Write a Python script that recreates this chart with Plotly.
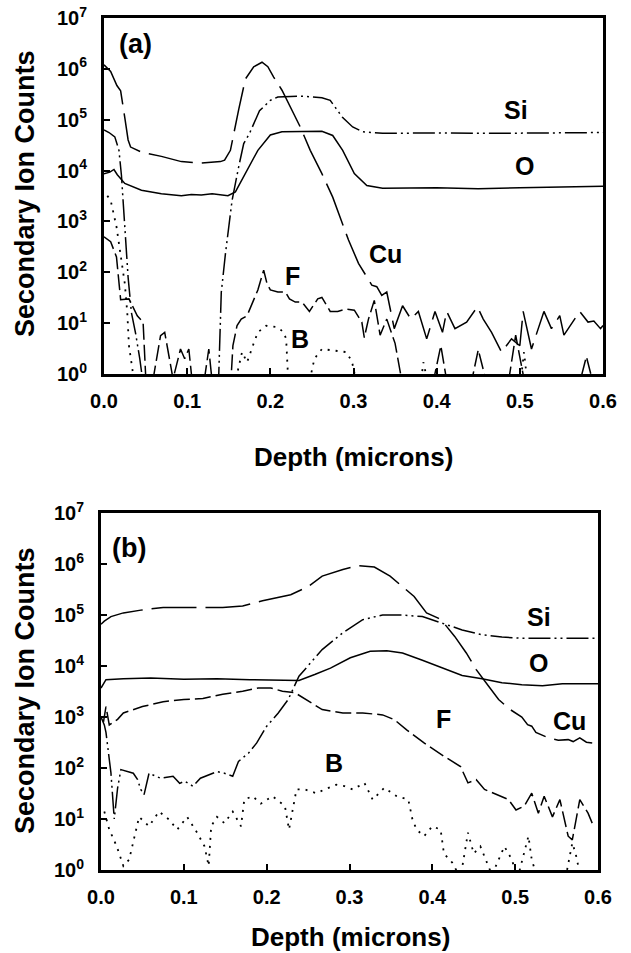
import plotly.graph_objects as go

# ---------------- Panel (a) data ----------------
a_si_x = [0.0, 0.006, 0.013, 0.018, 0.021, 0.025, 0.029, 0.033, 0.038, 0.043, 0.048, 0.09, 0.137,
          0.138, 0.141, 0.146, 0.154, 0.162, 0.168, 0.175, 0.187, 0.2, 0.209, 0.238, 0.262, 0.272,
          0.287, 0.299, 0.311, 0.335, 0.4, 0.47, 0.53, 0.6]
a_si_y = [6.3e4, 5.6e4, 4.6e4, 2.5e4, 7.9e3, 8.0e2, 79, 16, 6.3, 2.0, 0.5, 0.5, 0.5,
          1.0, 40, 2.3e2, 2.6e3, 1.2e4, 3.4e4, 5.4e4, 1.5e5, 2.4e5, 2.8e5, 2.9e5, 2.7e5, 2.4e5,
          1.1e5, 7.2e4, 5.8e4, 5.4e4, 5.5e4, 5.4e4, 5.5e4, 5.6e4]

a_o_x = [0.0, 0.007, 0.012, 0.016, 0.025, 0.045, 0.069, 0.093, 0.105, 0.117, 0.13, 0.137, 0.149,
         0.158, 0.17, 0.185, 0.2, 0.214, 0.262, 0.275, 0.287, 0.301, 0.316, 0.335, 0.4, 0.45,
         0.5, 0.55, 0.6]
a_o_y = [8.7e3, 9.3e3, 1.05e4, 8.3e3, 5.6e3, 4.1e3, 3.5e3, 3.2e3, 3.4e3, 3.3e3, 3.5e3, 3.4e3, 3.2e3,
         3.8e3, 8.7e3, 2.5e4, 5.0e4, 5.8e4, 5.9e4, 4.9e4, 2.5e4, 8.7e3, 5.1e3, 4.5e3, 4.6e3, 4.4e3,
         4.6e3, 4.7e3, 4.9e3]

a_cu_x = [0.0, 0.008, 0.0155, 0.02, 0.025, 0.029, 0.032, 0.045, 0.069, 0.093, 0.117, 0.14, 0.145,
          0.152, 0.162, 0.17, 0.18, 0.19, 0.197, 0.204, 0.214, 0.224, 0.236, 0.248, 0.262, 0.275,
          0.284, 0.294, 0.306, 0.316, 0.322, 0.328, 0.334, 0.34, 0.349, 0.359, 0.369, 0.378, 0.388,
          0.398, 0.407, 0.412, 0.422, 0.436, 0.449, 0.456, 0.466, 0.478, 0.49, 0.5, 0.504, 0.514,
          0.529, 0.538, 0.548, 0.553, 0.572, 0.582, 0.589, 0.597, 0.6]
a_cu_y = [1.2e6, 8.9e5, 4.7e5, 3.7e5, 1.1e5, 4.0e4, 2.9e4, 2.3e4, 1.9e4, 1.5e4, 1.4e4, 1.5e4, 1.6e4,
          2.5e4, 1.6e5, 6.3e5, 1.1e6, 1.35e6, 1.1e6, 6.9e5, 3.8e5, 1.8e5, 7.2e4, 2.5e4, 8.7e3, 3.0e3,
          1.2e3, 4.3e2, 1.5e2, 83, 56, 52, 35, 41, 7.8, 22, 12, 17, 4.9,
          17, 6.6, 17, 7.8, 10.5, 21, 12, 6.6, 2.7, 4.9, 3.6, 17, 3.1,
          17, 7.8, 14, 5.8, 17, 10.5, 11, 7.8, 9]

a_f_x = [0.0, 0.008, 0.015, 0.02, 0.03, 0.04, 0.047, 0.05, 0.056, 0.068, 0.073, 0.08, 0.083, 0.092,
         0.097, 0.102, 0.107, 0.119, 0.126, 0.131, 0.145, 0.153, 0.155, 0.16, 0.165, 0.172, 0.185,
         0.192, 0.196, 0.2, 0.209, 0.218, 0.223, 0.23, 0.238, 0.247, 0.257, 0.262, 0.272, 0.281,
         0.291, 0.301, 0.31, 0.313, 0.318, 0.325, 0.332, 0.34, 0.35, 0.36, 0.385, 0.395, 0.405,
         0.413, 0.44, 0.45, 0.462, 0.485, 0.495, 0.505, 0.51, 0.57, 0.58, 0.59, 0.6]
a_f_y = [5.0e2, 4.0e2, 2.0e2, 29, 30, 14, 10.5, 1.0, 0.4, 5.7, 6.6, 1.7, 0.8, 3.1,
         2.0, 3.1, 0.5, 0.5, 3.1, 0.5, 0.5, 0.95, 3.6, 9, 12, 14, 45,
         110, 60, 45, 41, 41, 30, 26, 26, 17, 30, 32, 17, 17,
         19, 18, 10.5, 5.2, 12, 28, 5.8, 12, 4, 0.5, 0.5, 0.6, 3.6,
         0.6, 0.5, 3.0, 0.5, 0.5, 5.8, 0.8, 0.5, 0.5, 2.2, 0.5, 0.5]

a_b_x = [0.004, 0.008, 0.015, 0.02, 0.025, 0.028, 0.03, 0.035, 0.04, 0.155, 0.16, 0.166, 0.172,
         0.18, 0.185, 0.195, 0.209, 0.216, 0.219, 0.221, 0.225, 0.245, 0.253, 0.262, 0.277, 0.291,
         0.298, 0.302, 0.31, 0.38, 0.384, 0.39, 0.5, 0.505, 0.51, 0.6]
a_b_y = [3.2e3, 2.6e3, 7.9e2, 2.3e2, 60, 16, 3.6, 1.0, 0.5, 0.5, 1.0, 2.7, 1.7,
         4.0, 6.6, 8.9, 8.3, 6.6, 4.9, 1.1, 0.5, 0.5, 2.0, 3.1, 2.9, 2.7,
         1.8, 0.9, 0.5, 0.5, 1.7, 0.6, 0.5, 2.7, 0.5, 0.5]

# ---------------- Panel (b) data ----------------
b_si_x = [0.0, 0.004, 0.006, 0.012, 0.016, 0.02, 0.024, 0.039, 0.044, 0.048, 0.052, 0.058, 0.072,
          0.087, 0.095, 0.101, 0.111, 0.12, 0.14, 0.149, 0.159, 0.166, 0.178, 0.188, 0.2, 0.214,
          0.226, 0.239, 0.253, 0.267, 0.292, 0.316, 0.34, 0.364, 0.388, 0.412, 0.436, 0.46, 0.484,
          0.508, 0.55, 0.6]
b_si_y = [1.0e3, 7.0e2, 5.0e2, 80, 10, 40, 93, 79, 60, 38, 30, 79, 63,
          69, 50, 55, 44, 63, 85, 79, 69, 1.35e2, 1.95e2, 3.1e2, 6.6e2, 1.2e3,
          2.2e3, 6.3e3, 1.15e4, 2.1e4, 4.5e4, 8.1e4, 1.0e5, 1.0e5, 9.3e4, 6.9e4, 5.1e4, 4.1e4, 3.7e4,
          3.5e4, 3.5e4, 3.5e4]

b_o_x = [0.0, 0.006, 0.027, 0.06, 0.1, 0.14, 0.18, 0.239, 0.258, 0.277, 0.301, 0.325, 0.345,
         0.364, 0.388, 0.412, 0.436, 0.46, 0.484, 0.508, 0.533, 0.557, 0.6]
b_o_y = [3.7e3, 5.4e3, 5.6e3, 5.8e3, 5.5e3, 5.6e3, 5.4e3, 5.2e3, 6.8e3, 9.1e3, 1.45e4, 1.95e4, 2.0e4,
         1.8e4, 1.3e4, 9.1e3, 6.5e3, 5.6e3, 4.7e3, 4.3e3, 4.1e3, 4.5e3, 4.5e3]

b_cu_x = [0.0, 0.004, 0.012, 0.027, 0.05, 0.075, 0.1, 0.123, 0.147, 0.171, 0.195, 0.229, 0.25,
          0.267, 0.292, 0.311, 0.33, 0.349, 0.364, 0.378, 0.393, 0.407, 0.412, 0.427, 0.441, 0.453,
          0.468, 0.48, 0.494, 0.508, 0.515, 0.52, 0.525, 0.54, 0.552, 0.564, 0.57, 0.578, 0.586,
          0.593]
b_cu_y = [6.6e4, 7.6e4, 9.3e4, 1.1e5, 1.26e5, 1.4e5, 1.4e5, 1.4e5, 1.4e5, 1.5e5, 1.9e5, 2.5e5, 3.6e5,
          5.8e5, 7.8e5, 9.3e5, 8.7e5, 5.8e5, 3.6e5, 2.3e5, 1.1e5, 8.7e4, 7.6e4, 3.8e4, 1.8e4, 8.5e3,
          4.0e3, 2.2e3, 1.4e3, 1.0e3, 7.1e2, 6.6e2, 5.0e2, 3.9e2, 3.5e2, 3.6e2, 3.3e2, 3.9e2, 3.2e2,
          3.1e2]

b_f_x = [0.003, 0.006, 0.01, 0.02, 0.027, 0.05, 0.075, 0.1, 0.123, 0.147, 0.171, 0.19, 0.205, 0.219,
         0.234, 0.248, 0.267, 0.292, 0.316, 0.34, 0.354, 0.369, 0.39, 0.414, 0.434, 0.443, 0.453,
         0.463, 0.482, 0.492, 0.501, 0.511, 0.52, 0.528, 0.535, 0.545, 0.554, 0.564, 0.569, 0.578,
         0.588, 0.593]
b_f_y = [8.0e2, 1.6e3, 7.0e2, 9.0e2, 1.2e3, 1.6e3, 2.0e3, 2.2e3, 2.3e3, 2.8e3, 3.2e3, 3.7e3, 3.7e3, 3.2e3,
         3.0e3, 2.2e3, 1.4e3, 1.2e3, 1.2e3, 1.1e3, 8.9e2, 5.6e2, 3.1e2, 1.7e2, 1.07e2, 51, 59,
         38, 28, 24, 15, 18, 32, 13, 28, 11, 24, 4.6, 3.9, 24,
         13, 8.3]

b_b_x = [0.004, 0.01, 0.019, 0.027, 0.034, 0.041, 0.046, 0.058, 0.07, 0.082, 0.092, 0.104, 0.116,
         0.125, 0.13, 0.133, 0.14, 0.149, 0.159, 0.169, 0.173, 0.183, 0.193, 0.207, 0.222, 0.227,
         0.236, 0.246, 0.26, 0.27, 0.284, 0.294, 0.304, 0.318, 0.328, 0.342, 0.357, 0.371, 0.376,
         0.381, 0.39, 0.4, 0.41, 0.414, 0.424, 0.434, 0.443, 0.45, 0.458, 0.472, 0.487, 0.496,
         0.503, 0.516, 0.52, 0.528, 0.56, 0.569, 0.573, 0.58, 0.59]
b_b_y = [14, 6.2, 2.9, 1.2, 1.6, 5.4, 11, 7.2, 14, 9.8, 6.2, 11, 5.4,
         2.9, 1.2, 7.2, 11, 8.3, 14, 7.2, 24, 28, 20, 28, 18, 6.2,
         38, 38, 32, 38, 47, 44, 38, 51, 24, 41, 28, 24, 9.8,
         6.2, 4.6, 7.2, 6.2, 2.1, 1.4, 0.7, 5.4, 2.1, 2.9, 0.8, 2.9, 1.6,
         0.7, 4.6, 1.6, 0.6, 0.6, 3.4, 2.1, 0.6, 0.5]

x_tick_vals = [0.0, 0.1, 0.2, 0.3, 0.4, 0.5, 0.6]
x_tick_text = ["0.0", "0.1", "0.2", "0.3", "0.4", "0.5", "0.6"]
y_tick_vals = [1, 10, 100, 1e3, 1e4, 1e5, 1e6, 1e7]
y_tick_text = ["10<sup>%d</sup>" % i for i in range(8)]

species_labels_a = [("Si", 516, 110), ("O", 524, 166), ("Cu", 385, 254), ("F", 292, 276), ("B", 300, 339)]
species_labels_b = [("Si", 539, 617), ("O", 538, 663), ("F", 443, 719), ("Cu", 569, 721), ("B", 334, 763)]

W, H = 631, 953
FONT = "Liberation Sans, Arial, sans-serif"

styles = {
    "Si": dict(color="black", width=1.5, dash="22px,4px,2px,4px,2px,4px"),
    "O": dict(color="black", width=1.5),
    "Cu": dict(color="black", width=1.5, dash="45px,9px"),
    "F": dict(color="black", width=1.5, dash="16px,5px"),
    "B": dict(color="black", width=1.8, dash="2px,6px"),
}

fig = go.Figure()
panel_a = [("Si", a_si_x, a_si_y), ("O", a_o_x, a_o_y), ("Cu", a_cu_x, a_cu_y),
           ("F", a_f_x, a_f_y), ("B", a_b_x, a_b_y)]
panel_b = [("Si", b_si_x, b_si_y), ("O", b_o_x, b_o_y), ("Cu", b_cu_x, b_cu_y),
           ("F", b_f_x, b_f_y), ("B", b_b_x, b_b_y)]
for name, xs, ys in panel_a:
    fig.add_trace(go.Scatter(x=xs, y=ys, mode="lines", line=styles[name], name=name,
                             xaxis="x", yaxis="y", showlegend=False))
for name, xs, ys in panel_b:
    fig.add_trace(go.Scatter(x=xs, y=ys, mode="lines", line=styles[name], name=name,
                             xaxis="x2", yaxis="y2", showlegend=False))

tickfont = dict(family=FONT, size=20, color="black", weight="bold")


def xaxis_cfg(domain, anchor):
    return dict(domain=domain, anchor=anchor, range=[0, 0.6], tickvals=x_tick_vals,
                ticktext=x_tick_text, ticks="inside", ticklen=6, tickwidth=2, tickcolor="black",
                showline=True, linewidth=3, linecolor="black", mirror=True, showgrid=False,
                zeroline=False, tickfont=tickfont, ticklabelstandoff=7, automargin=False)


def yaxis_cfg(domain, anchor):
    return dict(domain=domain, anchor=anchor, type="log", range=[0, 7], tickvals=y_tick_vals,
                ticktext=y_tick_text, ticks="inside", ticklen=6, tickwidth=2, tickcolor="black",
                showline=True, linewidth=3, linecolor="black", mirror=True, showgrid=False,
                zeroline=False, tickfont=tickfont, ticklabelstandoff=10, automargin=False)


fig.update_layout(
    width=W, height=H,
    margin=dict(l=0, r=0, t=0, b=0),
    paper_bgcolor="white", plot_bgcolor="white",
    xaxis=xaxis_cfg([104 / W, 603 / W], "y"),
    yaxis=yaxis_cfg([1 - 374 / H, 1 - 18 / H], "x"),
    xaxis2=xaxis_cfg([101 / W, 598 / W], "y2"),
    yaxis2=yaxis_cfg([1 - 870 / H, 1 - 513 / H], "x2"),
)

ann = []


def add_text(text, px, py, size, angle=0):
    ann.append(dict(text=text, x=px / W, y=1 - py / H, xref="paper", yref="paper",
                    showarrow=False, textangle=angle, xanchor="center", yanchor="middle",
                    font=dict(family=FONT, size=size, color="black", weight="bold")))


add_text("(a)", 135, 44, 27)
add_text("(b)", 129, 548, 27)
for t, px, py in species_labels_a + species_labels_b:
    add_text(t, px, py, 25)
add_text("Depth (microns)", 353, 457, 26)
add_text("Depth (microns)", 350, 937, 26)
add_text("Secondary Ion Counts", 25, 194, 27, -90)
add_text("Secondary Ion Counts", 25, 691, 27, -90)
fig.update_layout(annotations=ann)

fig.write_html("out.html")
